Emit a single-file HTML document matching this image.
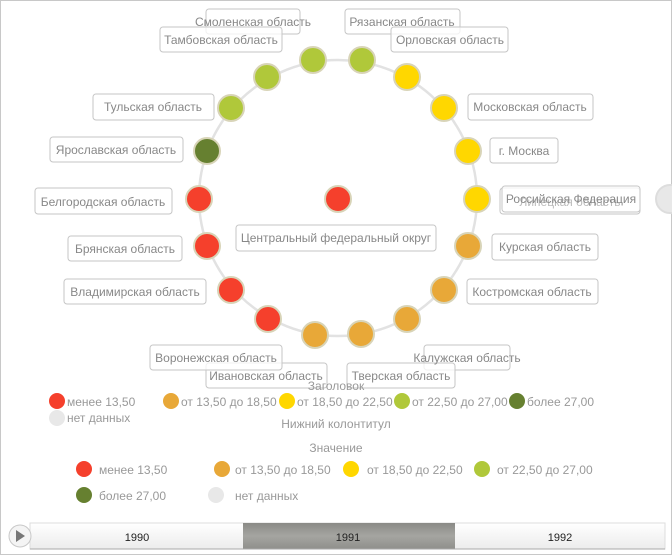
<!DOCTYPE html>
<html><head><meta charset="utf-8"><style>
html,body{margin:0;padding:0;background:#fff}
svg{display:block;font-family:"Liberation Sans","DejaVu Sans",sans-serif}
</style></head><body>
<svg width="672" height="555" viewBox="0 0 672 555">
<defs>
<linearGradient id="seg" x1="0" y1="0" x2="0" y2="1"><stop offset="0" stop-color="#fff"/><stop offset="1" stop-color="#ececec"/></linearGradient>
<linearGradient id="sel" x1="0" y1="0" x2="0" y2="1"><stop offset="0" stop-color="#8a8a86"/><stop offset="0.5" stop-color="#a5a5a1"/><stop offset="1" stop-color="#8f8f8b"/></linearGradient>
</defs>
<rect x="0.5" y="0.5" width="671" height="554" fill="#fff" stroke="#c8c8c8"/>
<ellipse cx="338" cy="198" rx="139" ry="138" fill="none" stroke="#e2e2e2" stroke-width="2.5"/>
<g font-size="12" fill="#888">
<g fill="#fff" fill-opacity="0.75" stroke="#c6c6c6">
<rect x="206" y="9" width="94" height="25" rx="3"/>
<rect x="160" y="27" width="122" height="25" rx="3"/>
<rect x="345" y="9" width="115" height="25" rx="3"/>
<rect x="391" y="27" width="117" height="25" rx="3"/>
<rect x="468" y="94" width="125" height="26" rx="3"/>
<rect x="490" y="138" width="68" height="25" rx="3"/>
<rect x="500" y="188" width="140" height="26" rx="3"/>
<rect x="502" y="186" width="138" height="26" rx="3"/>
<rect x="492" y="234" width="106" height="26" rx="3"/>
<rect x="467" y="279" width="131" height="25" rx="3"/>
<rect x="424" y="345" width="86" height="25" rx="3"/>
<rect x="347" y="363" width="108" height="25" rx="3"/>
<rect x="206" y="363" width="121" height="25" rx="3"/>
<rect x="150" y="345" width="132" height="25" rx="3"/>
<rect x="64" y="279" width="142" height="25" rx="3"/>
<rect x="68" y="236" width="114" height="25" rx="3"/>
<rect x="35" y="188" width="137" height="26" rx="3"/>
<rect x="50" y="137" width="133" height="25" rx="3"/>
<rect x="93" y="94" width="121" height="26" rx="3"/>
<rect x="236" y="225" width="200" height="26" rx="3"/>
</g>
<text x="253" y="26" text-anchor="middle">Смоленская область</text>
<text x="221" y="44" text-anchor="middle">Тамбовская область</text>
<text x="402" y="26" text-anchor="middle">Рязанская область</text>
<text x="450" y="44" text-anchor="middle">Орловская область</text>
<text x="530" y="111" text-anchor="middle">Московская область</text>
<text x="524" y="155" text-anchor="middle">г. Москва</text>
<text x="570" y="206" text-anchor="middle" fill="#bbb">Липецкая область</text>
<text x="571" y="203" text-anchor="middle">Российская Федерация</text>
<text x="545" y="251" text-anchor="middle">Курская область</text>
<text x="532" y="296" text-anchor="middle">Костромская область</text>
<text x="467" y="362" text-anchor="middle">Калужская область</text>
<text x="401" y="380" text-anchor="middle">Тверская область</text>
<text x="266" y="380" text-anchor="middle">Ивановская область</text>
<text x="216" y="362" text-anchor="middle">Воронежская область</text>
<text x="135" y="296" text-anchor="middle">Владимирская область</text>
<text x="125" y="253" text-anchor="middle">Брянская область</text>
<text x="103" y="206" text-anchor="middle">Белгородская область</text>
<text x="116" y="154" text-anchor="middle">Ярославская область</text>
<text x="153" y="111" text-anchor="middle">Тульская область</text>
<text x="336" y="242" text-anchor="middle">Центральный федеральный округ</text>
</g>
<g stroke="#d8d4b8" stroke-width="2">
<circle cx="313" cy="60" r="13" fill="#b0c83a"/>
<circle cx="362" cy="60" r="13" fill="#b0c83a"/>
<circle cx="267" cy="77" r="13" fill="#b0c83a"/>
<circle cx="407" cy="77" r="13" fill="#ffd700"/>
<circle cx="231" cy="108" r="13" fill="#b0c83a"/>
<circle cx="444" cy="108" r="13" fill="#ffd700"/>
<circle cx="207" cy="151" r="13" fill="#668030"/>
<circle cx="468" cy="151" r="13" fill="#ffd700"/>
<circle cx="199" cy="199" r="13" fill="#f5402c"/>
<circle cx="477" cy="199" r="13" fill="#ffd700"/>
<circle cx="207" cy="246" r="13" fill="#f5402c"/>
<circle cx="468" cy="246" r="13" fill="#e8a838"/>
<circle cx="231" cy="290" r="13" fill="#f5402c"/>
<circle cx="444" cy="290" r="13" fill="#e8a838"/>
<circle cx="268" cy="319" r="13" fill="#f5402c"/>
<circle cx="407" cy="319" r="13" fill="#e8a838"/>
<circle cx="315" cy="335" r="13" fill="#e8a838"/>
<circle cx="361" cy="334" r="13" fill="#e8a838"/>
<circle cx="338" cy="199" r="13" fill="#f5402c"/>
<circle cx="670" cy="199" r="14" fill="#e8e8e8" stroke="#ddd"/>
</g>
<g font-size="12" fill="#999">
<text x="336" y="390" text-anchor="middle">Заголовок</text>
<circle cx="57" cy="401" r="8" fill="#f5402c"/><text x="67" y="406">менее 13,50</text>
<circle cx="171" cy="401" r="8" fill="#e8a838"/><text x="181" y="406">от 13,50 до 18,50</text>
<circle cx="287" cy="401" r="8" fill="#ffd700"/><text x="297" y="406">от 18,50 до 22,50</text>
<circle cx="402" cy="401" r="8" fill="#b0c83a"/><text x="412" y="406">от 22,50 до 27,00</text>
<circle cx="517" cy="401" r="8" fill="#668030"/><text x="527" y="406">более 27,00</text>
<circle cx="57" cy="418" r="8" fill="#e8e8e8"/><text x="67" y="422">нет данных</text>
<text x="336" y="428" text-anchor="middle">Нижний колонтитул</text>
<text x="336" y="452" text-anchor="middle">Значение</text>
<circle cx="84" cy="469" r="8" fill="#f5402c"/><text x="99" y="474">менее 13,50</text>
<circle cx="222" cy="469" r="8" fill="#e8a838"/><text x="235" y="474">от 13,50 до 18,50</text>
<circle cx="351" cy="469" r="8" fill="#ffd700"/><text x="367" y="474">от 18,50 до 22,50</text>
<circle cx="482" cy="469" r="8" fill="#b0c83a"/><text x="497" y="474">от 22,50 до 27,00</text>
<circle cx="84" cy="495" r="8" fill="#668030"/><text x="99" y="500">более 27,00</text>
<circle cx="216" cy="495" r="8" fill="#e8e8e8"/><text x="235" y="500">нет данных</text>
</g>
<rect x="30" y="523" width="635" height="26" fill="url(#seg)" stroke="#ddd"/>
<rect x="243" y="523" width="212" height="26" fill="url(#sel)"/>
<line x1="30" y1="549" x2="665" y2="549" stroke="#aaa"/>
<circle cx="20" cy="536" r="11" fill="#f4f4f4" stroke="#c8c8c8"/>
<path d="M16 530 L25 536 L16 542 Z" fill="#777"/>
<g font-size="11" fill="#222" text-anchor="middle">
<text x="137" y="541">1990</text><text x="348" y="541">1991</text><text x="560" y="541">1992</text>
</g>
</svg>
</body></html>
